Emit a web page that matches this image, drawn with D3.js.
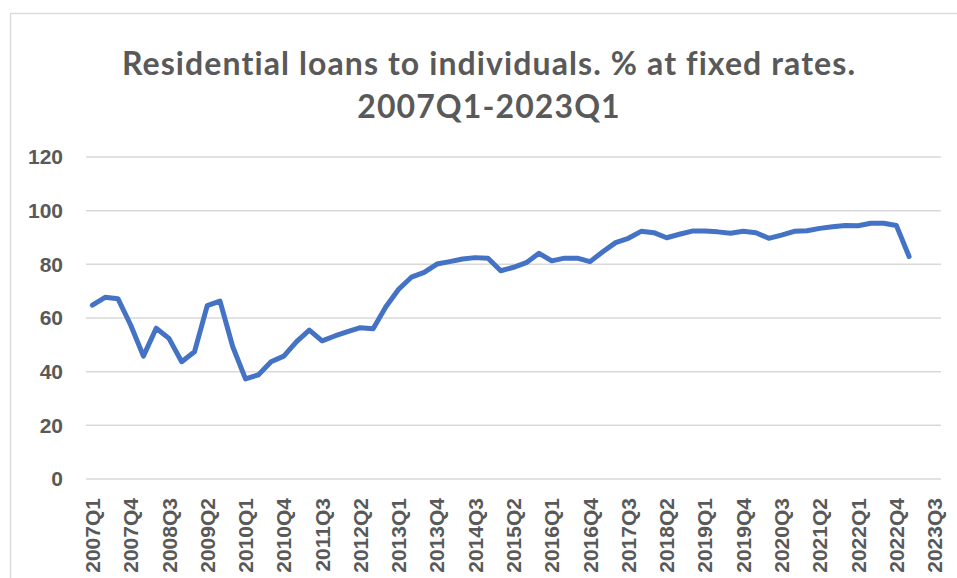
<!DOCTYPE html>
<html>
<head>
<script src="https://d3js.org/d3.v7.min.js"></script>
<style>
  body { margin: 0; background: #fff; }
</style>
</head>
<body>
<div id="chart"></div>
<script>
// quarters on the category axis, 2007Q1 .. 2023Q3
var years = d3.range(2007, 2024);
var quarters = [];
years.forEach(function (y) {
    [1, 2, 3, 4].forEach(function (q) {
        if (y === 2023 && q > 3) return;
        quarters.push(y + "Q" + q);
    });
});

// % of residential loans at fixed rates, 2007Q1 .. 2023Q1
var fixedShare = [
    64.8, 67.7, 67.2, 57.4, 45.8, 56.2, 52.4, 43.7, 47.4, 64.6,
    66.3, 49.3, 37.3, 38.8, 43.7, 45.8, 51.2, 55.5, 51.5, 53.3,
    54.9, 56.4, 56.0, 64.2, 70.7, 75.2, 77.0, 80.1, 81.0, 82.0,
    82.5, 82.3, 77.6, 78.9, 80.6, 84.1, 81.3, 82.3, 82.3, 81.0,
    84.7, 88.1, 89.7, 92.3, 91.8, 89.9, 91.2, 92.4, 92.4, 92.1,
    91.6, 92.3, 91.8, 89.7, 90.9, 92.3, 92.5, 93.4, 94.0, 94.5,
    94.4, 95.3, 95.3, 94.5, 82.9
];

var yTicks = [0, 20, 40, 60, 80, 100, 120];

var W = 957, H = 578;
var margin = {top: 157, right: 16, bottom: 99, left: 86};
var width = 941 - margin.left,
    height = 479 - margin.top;

var svg = d3.select("#chart")
  .append("svg")
    .attr("width", W)
    .attr("height", H);

// chart area border
svg.append("rect")
    .attr("x", 10.5).attr("y", 13.5)
    .attr("width", W + 20).attr("height", H + 20)
    .attr("fill", "none")
    .attr("stroke", "#d9d9d9")
    .attr("stroke-width", 1.3);

// title
var title = svg.append("text")
    .attr("text-anchor", "middle")
    .style("font-family", "Lato, 'Open Sans', sans-serif")
    .style("font-weight", "bold")
    .style("font-size", "32px")
    .style("letter-spacing", "1.1px")
    .style("font-variant-ligatures", "none")
    .attr("fill", "#595959");
title.append("tspan").attr("x", 489).attr("y", 75)
    .text("Residential loans to individuals. % at fixed rates.");
title.append("tspan").attr("x", 489).attr("y", 118)
    .text("2007Q1-2023Q1");

var g = svg.append("g")
    .attr("transform", "translate(" + margin.left + "," + margin.top + ")");

var x = d3.scaleBand()
    .domain(quarters)
    .range([0, width]);

var y = d3.scaleLinear()
    .domain([0, 120])
    .range([height, 0]);

// gridlines
g.append("g")
  .selectAll("line")
  .data(yTicks)
  .enter()
  .append("line")
    .attr("x1", 0).attr("x2", width)
    .attr("y1", function (d) { return y(d); })
    .attr("y2", function (d) { return y(d); })
    .attr("stroke", "#d9d9d9")
    .attr("stroke-width", 1.5);

// Y axis
var yAxis = g.append("g")
    .call(d3.axisLeft(y).tickValues(yTicks).tickSize(0).tickPadding(23));
yAxis.select(".domain").remove();
yAxis.selectAll("text")
    .style("font-family", "'Liberation Sans', Arial, sans-serif")
    .style("font-weight", "bold")
    .style("font-size", "21px")
    .attr("fill", "#595959");

// X axis, every third quarter
var xAxis = g.append("g")
    .attr("transform", "translate(0," + height + ")")
    .call(d3.axisBottom(x)
        .tickValues(quarters.filter(function (d, i) { return i % 3 === 0; }))
        .tickSize(0));
xAxis.select(".domain").remove();
xAxis.selectAll("text")
    .attr("transform", "rotate(-90)")
    .attr("x", -19)
    .attr("y", 0)
    .attr("dy", "0.36em")
    .style("text-anchor", "end")
    .style("font-family", "'Liberation Sans', Arial, sans-serif")
    .style("font-weight", "bold")
    .style("font-size", "21px")
    .attr("fill", "#595959");

// line
var line = d3.line()
    .x(function (d, i) { return x(quarters[i]) + x.bandwidth() / 2; })
    .y(function (d) { return y(d); });

g.append("path")
    .datum(fixedShare)
    .attr("d", line)
    .attr("fill", "none")
    .attr("stroke", "#4472c4")
    .attr("stroke-width", 5)
    .attr("stroke-linejoin", "round")
    .attr("stroke-linecap", "round");
</script>
</body>
</html>
